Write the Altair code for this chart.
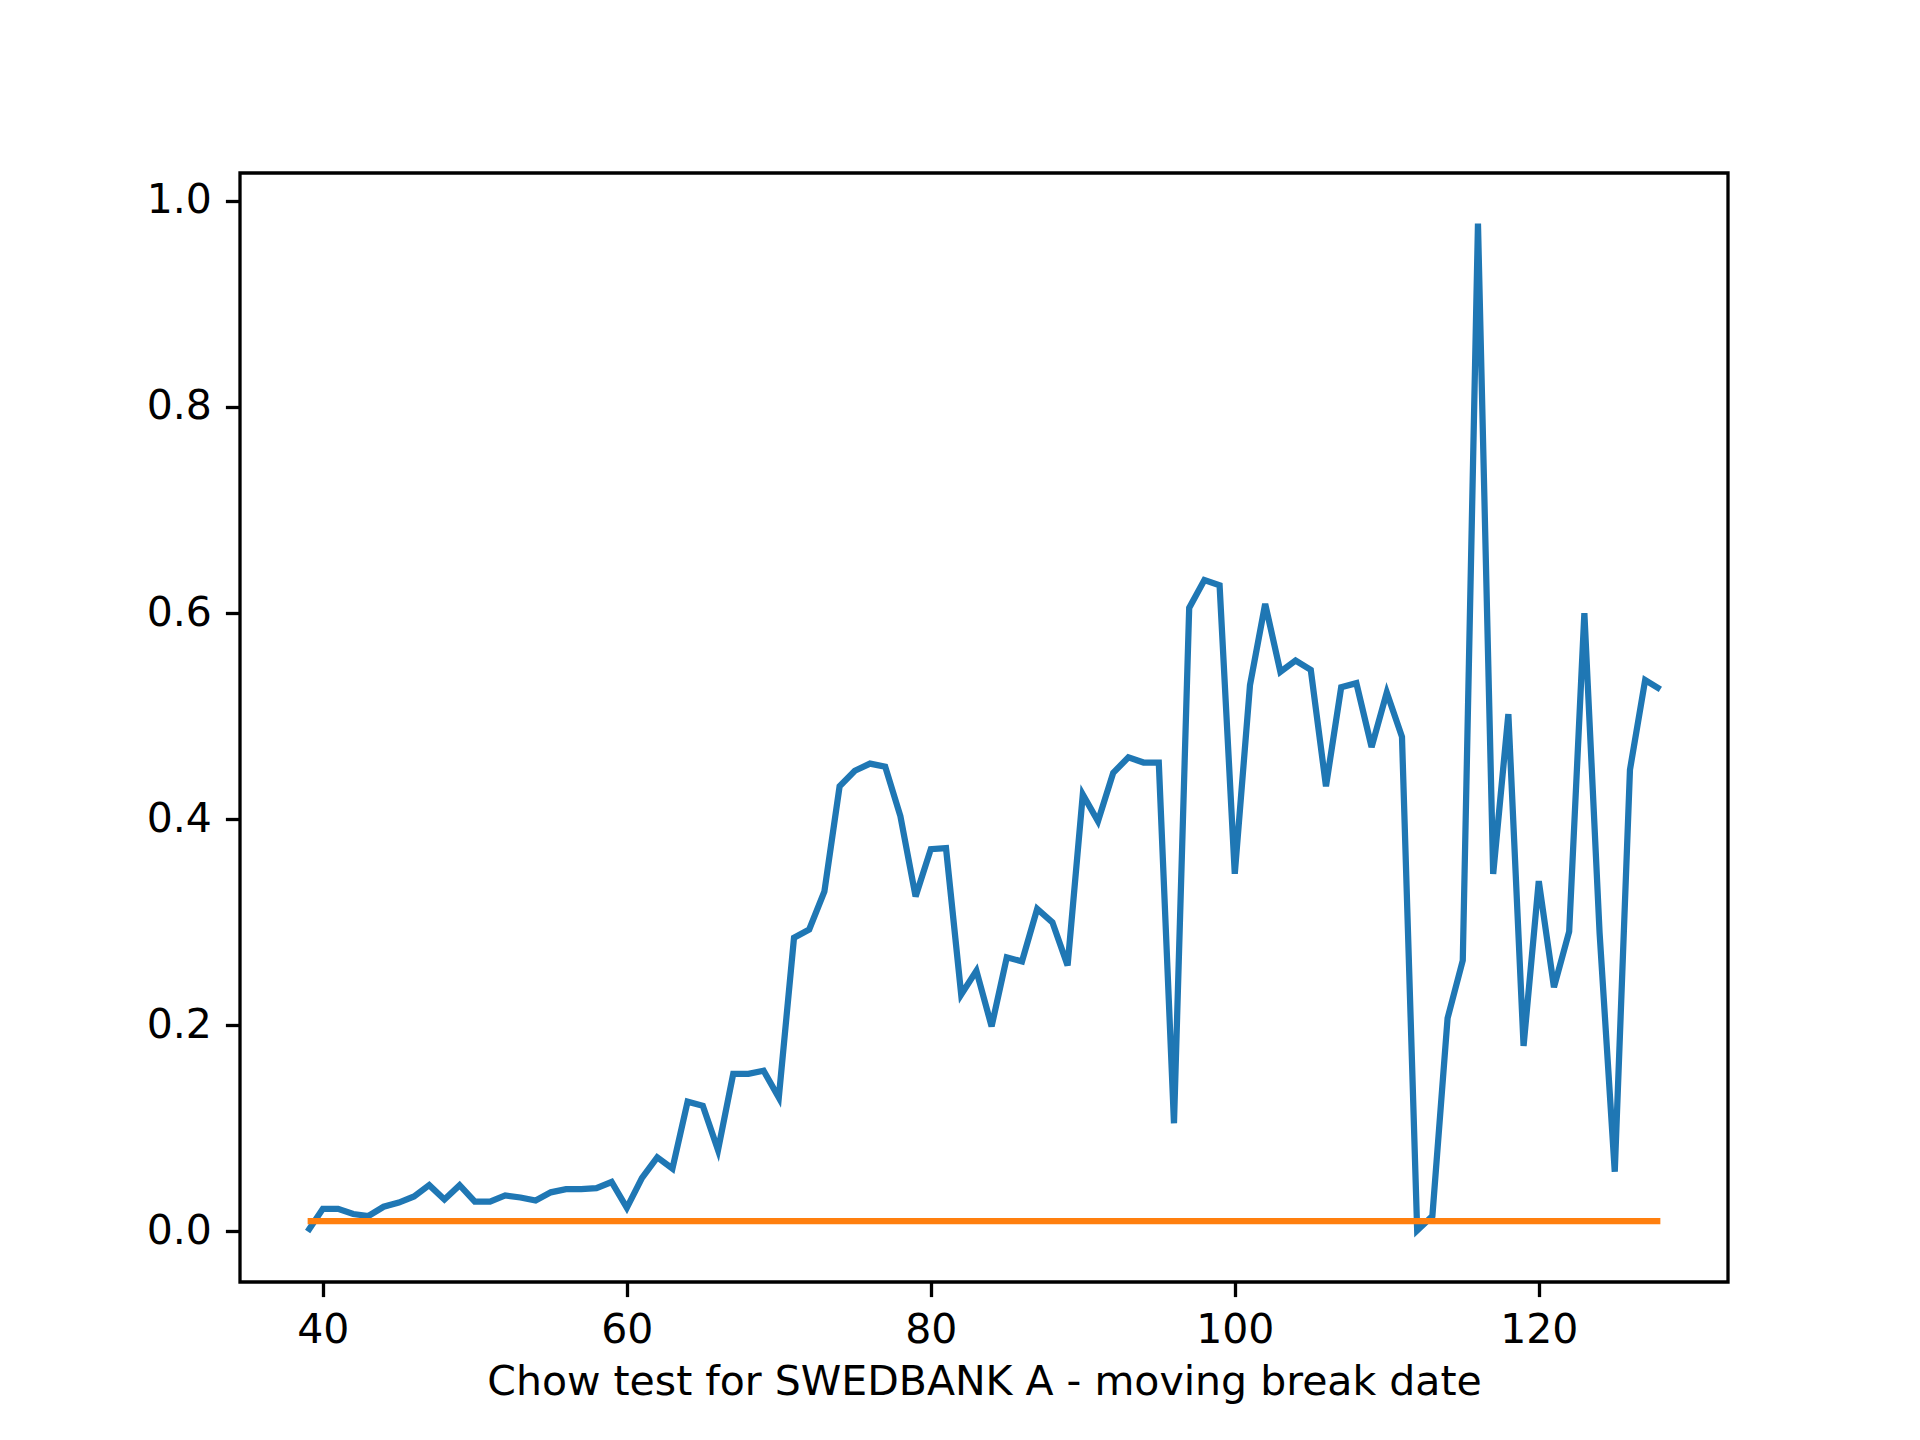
import altair as alt
import pandas as pd

xs = list(range(39, 129))
pvals = [0.0, 0.022, 0.022, 0.017, 0.015, 0.024, 0.028, 0.034, 0.045, 0.031,
         0.045, 0.029, 0.029, 0.035, 0.033, 0.030, 0.038, 0.041, 0.041, 0.042,
         0.048, 0.023, 0.052, 0.072, 0.061, 0.126, 0.122, 0.079, 0.153, 0.153,
         0.156, 0.130, 0.285, 0.293, 0.330, 0.432, 0.447, 0.454, 0.451, 0.403,
         0.325, 0.371, 0.372, 0.230, 0.253, 0.199, 0.266, 0.262, 0.313, 0.300,
         0.258, 0.424, 0.398, 0.445, 0.460, 0.455, 0.455, 0.105, 0.605, 0.632,
         0.627, 0.347, 0.530, 0.609, 0.543, 0.554, 0.545, 0.432, 0.528, 0.532,
         0.470, 0.523, 0.480, 0.001, 0.015, 0.207, 0.263, 0.978, 0.347, 0.502,
         0.180, 0.340, 0.237, 0.291, 0.600, 0.290, 0.058, 0.448, 0.535, 0.526]
threshold = [0.01] * len(xs)

df = pd.DataFrame({"x": xs, "p": pvals, "t": threshold})

xsc = alt.Scale(domain=[34.55, 132.45], nice=False, zero=False)
ysc = alt.Scale(domain=[-0.049, 1.027], nice=False, zero=False)
xax = alt.Axis(values=[40, 60, 80, 100, 120], title="Chow test for SWEDBANK A - moving break date",
               grid=False, format="d")
yax = alt.Axis(values=[0, 0.2, 0.4, 0.6, 0.8, 1.0], format=".1f", title=None, grid=False)

blue = alt.Chart(df).mark_line(color="#1f77b4", strokeWidth=6.25).encode(
    x=alt.X("x:Q", scale=xsc, axis=xax), y=alt.Y("p:Q", scale=ysc, axis=yax))
orange = alt.Chart(df).mark_line(color="#ff7f0e", strokeWidth=6.25).encode(
    x=alt.X("x:Q", scale=xsc), y=alt.Y("t:Q", scale=ysc))

chart = (blue + orange).properties(
    width=1488, height=1109,
    autosize=alt.AutoSizeParams(type="none"),
    padding={"left": 232, "top": 165, "right": 184, "bottom": 150},
).configure_view(stroke="black", strokeWidth=3.3).configure_axis(
    labelFont="DejaVu Sans", titleFont="DejaVu Sans", labelFontSize=41, titleFontSize=41,
    titleFontWeight="normal", labelColor="black", titleColor="black",
    domain=False, tickColor="black", tickWidth=3.3, tickSize=14.6, labelPadding=14,
    titlePadding=12,
)

chart.save("out.html", embed_options={"renderer": "svg", "actions": False})
